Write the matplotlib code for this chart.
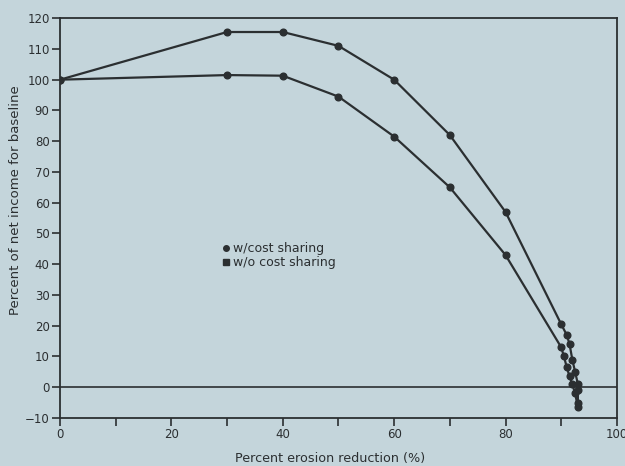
import matplotlib
matplotlib.use("Agg")
import matplotlib.pyplot as plt
from matplotlib.lines import Line2D

# Data
x_with = [0, 30, 40, 50, 60, 70, 80, 90, 91, 91.5, 92, 92.5, 93, 93, 93]
y_with = [100, 115.5, 115.5, 111, 100, 82, 57, 20.5, 17, 14, 9, 5, 1, -1, -5]
x_without = [0, 30, 40, 50, 60, 70, 80, 90, 90.5, 91, 91.5, 92, 92.5, 93]
y_without = [100, 101.5, 101.3, 94.5, 81.5, 65, 43, 13, 10, 6.5, 3.5, 1, -2, -6.5]
labels = ["w/cost sharing", "w/o cost sharing"]
x_ticks = [0, 20, 40, 60, 80, 100]
y_ticks = list(range(-10, 121, 10))

bg = "#c4d5db"
ink = "#2b2f31"
plt.rcParams['font.family'] = ['DejaVu Sans']

fig = plt.figure(figsize=(6.25, 4.66), dpi=100, facecolor=bg)
ax = fig.add_axes([0.096, 0.103, 0.891, 0.858], facecolor=bg)

ax.plot(x_with, y_with, color=ink, lw=1.6, marker='o', ms=4.8, mfc=ink, mec=ink)
ax.plot(x_without, y_without, color=ink, lw=1.6, marker='o', ms=4.8, mfc=ink, mec=ink)
ax.axhline(0, color=ink, lw=1.2, zorder=1)

ax.set_xlim(0, 100)
ax.set_ylim(-10, 120)
ax.set_xticks(range(0, 101, 10))
ax.set_xticklabels([str(v) if v in x_ticks else "" for v in range(0, 101, 10)])
ax.set_yticks(y_ticks)
ax.set_yticklabels(["\u221210" if v == -10 else str(v) for v in y_ticks])
ax.tick_params(axis='both', colors=ink, labelsize=8.5, length=6, width=1.2,
               direction='out', pad=1.5)
for s in ax.spines.values():
    s.set_color(ink)
    s.set_linewidth(1.3)

ax.set_xlabel("Percent erosion reduction (%)", fontsize=9.2, color=ink)
ax.set_ylabel("Percent of net income for baseline", fontsize=9.5, color=ink)
ax.xaxis.set_label_coords(0.485, -0.085)
ax.yaxis.set_label_coords(-0.068, 0.545)

handles = [Line2D([], [], ls='none', marker='o', ms=4, color=ink),
           Line2D([], [], ls='none', marker='s', ms=4, color=ink)]
ax.legend(handles, labels, loc='upper left', bbox_to_anchor=(0.275, 0.455), frameon=False,
          fontsize=9, handletextpad=0.1, handlelength=1.0, labelspacing=0.05, borderpad=0,
          labelcolor=ink)

fig.savefig("out.png", dpi=100, facecolor=bg)
